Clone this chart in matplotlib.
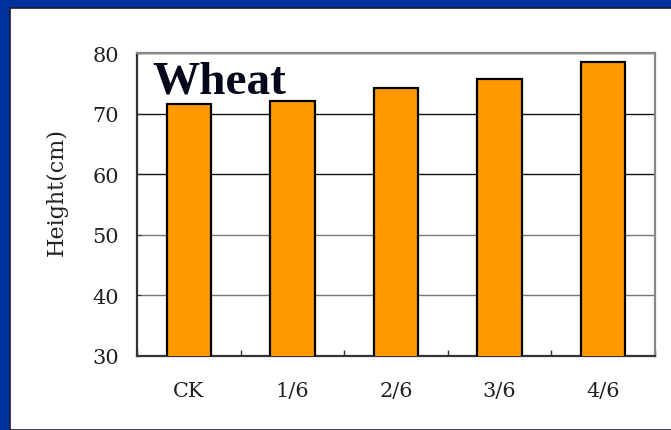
import matplotlib.pyplot as plt
from matplotlib.patches import Rectangle
import numpy as np

# data
groups = ['CK', '1/6', '2/6', '3/6', '4/6']
height_cm = [71.6, 72.0, 74.2, 75.7, 78.5]
y_ticks = [30, 40, 50, 60, 70, 80]

fig = plt.figure(figsize=(6.71, 4.31), dpi=100)
fig.patch.set_facecolor('#0033A0')

# white slide panel behind the chart
panel = Rectangle((10 / 671, 0), 1.0, 1 - 9 / 431, transform=fig.transFigure,
                  facecolor='white', edgecolor='#1a1a2e', lw=1.2, zorder=-5)
fig.add_artist(panel)

ax = fig.add_axes([137 / 671, 1 - 357 / 431, 518 / 671, 303 / 431])
ax.set_zorder(2)
ax.set_facecolor('white')

x = np.arange(len(groups))
ax.bar(x, height_cm, width=0.43, color='#FF9900', edgecolor='black', lw=1.6, zorder=3)

ax.set_ylim(30, 80)
ax.set_xlim(-0.5, len(groups) - 0.5)
ax.set_yticks(y_ticks)
ax.set_xticks(x)
ax.set_xticklabels(groups)
ax.set_xticks(np.arange(-0.5, len(groups)), minor=True)

tick_font = 'DejaVu Serif'
for lab in ax.get_xticklabels() + ax.get_yticklabels():
    lab.set_family(tick_font)
    lab.set_fontsize(15)
    lab.set_color('#222')
ax.tick_params(axis='x', which='major', length=0, pad=18)
ax.tick_params(axis='x', which='minor', direction='in', length=4, width=1, color='#333')
ax.tick_params(axis='y', direction='in', length=3, pad=13, color='#333')

ax.yaxis.grid(True, lw=1)
ax.set_axisbelow(True)
# upper grid lines come out black, lower ones grey
for gl, v in zip(ax.get_ygridlines(), y_ticks):
    gl.set_color('#111' if v >= 60 else '#777')

for s in ['left', 'bottom']:
    ax.spines[s].set_color('#333')
    ax.spines[s].set_linewidth(1.6)
for s in ['top', 'right']:
    ax.spines[s].set_color('#888')
    ax.spines[s].set_linewidth(1.6)

ax.set_ylabel('Height(cm)', family=tick_font, fontsize=16, color='#222')
ax.yaxis.set_label_coords(-0.133, 0.545)

ax.text(0.029, 0.871, 'Wheat', transform=ax.transAxes, family='Liberation Serif',
        fontweight='bold', fontsize=34, va='baseline', ha='left', color='#05081a', zorder=5)

fig.savefig('out.png', dpi=100, facecolor=fig.get_facecolor())
